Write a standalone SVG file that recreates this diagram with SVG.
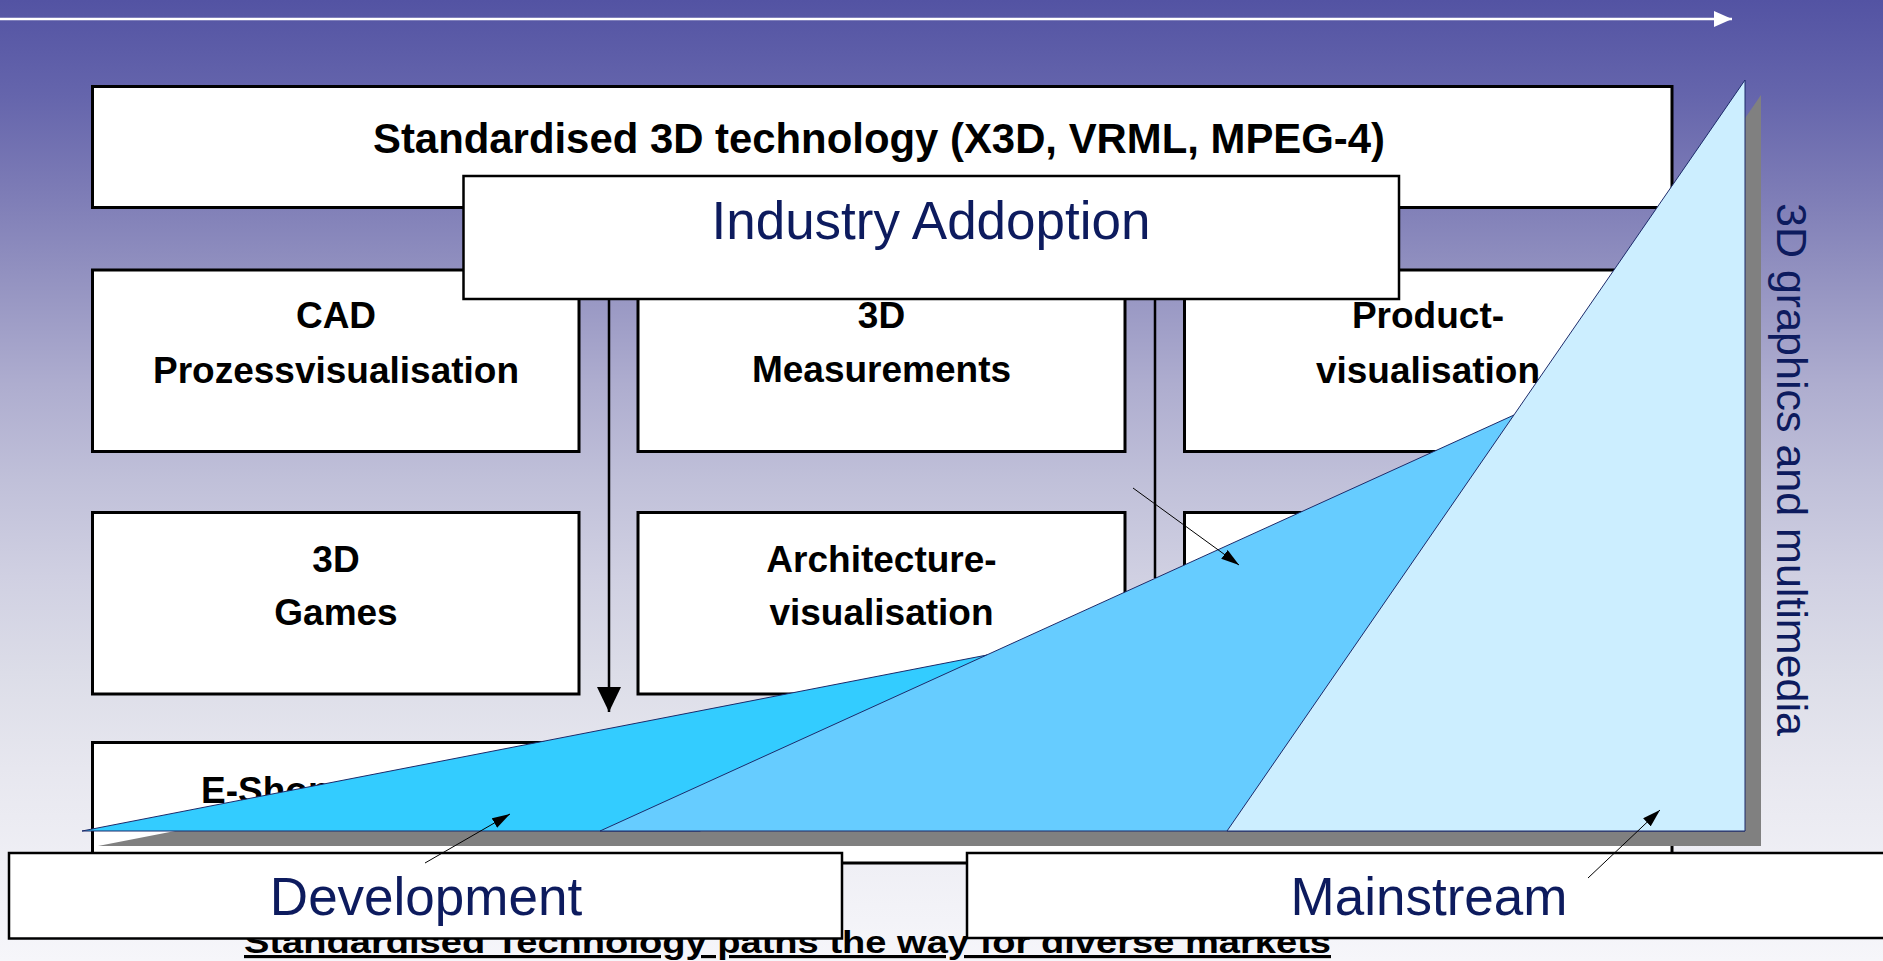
<svg xmlns="http://www.w3.org/2000/svg" width="1883" height="961" viewBox="0 0 1883 961">
<defs>
<linearGradient id="bg" x1="0" y1="0" x2="0" y2="1">
<stop offset="0" stop-color="#5353a3"/>
<stop offset="0.1" stop-color="#6565ac"/>
<stop offset="0.2" stop-color="#7d7cb6"/>
<stop offset="0.3" stop-color="#9695c2"/>
<stop offset="0.4" stop-color="#aeadcf"/>
<stop offset="0.5" stop-color="#c0c0d9"/>
<stop offset="0.6" stop-color="#d0d0e2"/>
<stop offset="0.7" stop-color="#dcdde8"/>
<stop offset="0.8" stop-color="#e7e7ef"/>
<stop offset="0.9" stop-color="#efeff5"/>
<stop offset="1" stop-color="#f6f6fa"/>
</linearGradient>
<marker id="ah" markerUnits="userSpaceOnUse" markerWidth="18" markerHeight="11" refX="18" refY="5.5" orient="auto"><path d="M0,0 L18,5.5 L0,11 z" fill="#000"/></marker>
<marker id="ahBig" markerUnits="userSpaceOnUse" markerWidth="25" markerHeight="24" refX="25" refY="12" orient="auto"><path d="M0,0 L25,12 L0,24 z" fill="#000"/></marker>
<marker id="ahWhite" markerUnits="userSpaceOnUse" markerWidth="18" markerHeight="16" refX="18" refY="8" orient="auto"><path d="M0,0 L18,8 L0,16 z" fill="#fff"/></marker>
</defs>
<style>
.box{fill:#fff;stroke:#000;stroke-width:3}
.lbox{fill:#fff;stroke:#000;stroke-width:2.5}
.lbl{font-family:'Liberation Sans',Arial,sans-serif;font-weight:bold;font-size:37px;text-anchor:middle;fill:#000}
.big{font-family:'Liberation Sans',Arial,sans-serif;font-size:53px;text-anchor:middle;fill:#0d1b5e}
.tri{stroke:#1c2a6a;stroke-width:1;stroke-linejoin:round}
.ptr{stroke:#000;stroke-width:1;fill:none;marker-end:url(#ah)}
</style>
<rect x="0" y="0" width="1883" height="961" fill="url(#bg)"/>

<g id="node-standard">
<rect class="box" x="92.5" y="86.5" width="1579.5" height="121"/>
<text class="lbl" x="879" y="153" textLength="1012" lengthAdjust="spacingAndGlyphs" style="font-size:43px">Standardised 3D technology (X3D, VRML, MPEG-4)</text>
</g>
<g id="node-cad">
<rect class="box" x="92.5" y="270" width="486.5" height="181.5"/>
<text class="lbl" x="336" y="328">CAD</text>
<text class="lbl" x="336" y="383">Prozessvisualisation</text>
</g>
<g id="node-measurements">
<rect class="box" x="638" y="270" width="487" height="181.5"/>
<text class="lbl" x="881.5" y="328">3D</text>
<text class="lbl" x="881.5" y="382">Measurements</text>
</g>
<g id="node-product">
<rect class="box" x="1184.5" y="270" width="487.5" height="181.5"/>
<text class="lbl" x="1428" y="328">Product-</text>
<text class="lbl" x="1428" y="383">visualisation</text>
</g>
<g id="node-games">
<rect class="box" x="92.5" y="512.5" width="486.5" height="181.5"/>
<text class="lbl" x="336" y="572">3D</text>
<text class="lbl" x="336" y="625">Games</text>
</g>
<g id="node-architecture">
<rect class="box" x="638" y="512.5" width="487" height="181.5"/>
<text class="lbl" x="881.5" y="572">Architecture-</text>
<text class="lbl" x="881.5" y="625">visualisation</text>
</g>
<g id="node-row2-right">
<rect class="box" x="1184.5" y="512.5" width="487.5" height="181.5"/>
</g>
<g id="node-eshop">
<rect class="box" x="92.5" y="742.5" width="1579.5" height="120.5"/>
<text class="lbl" x="201" y="803" style="text-anchor:start">E-Shop</text>
</g>

<g id="node-industry">
<rect class="lbox" x="463.5" y="176" width="935.5" height="123"/>
<text class="big" x="931" y="239">Industry Addoption</text>
</g>

<g id="caption">
<text x="787.5" y="953" textLength="1087" lengthAdjust="spacingAndGlyphs" style="font-family:'Liberation Sans',Arial,sans-serif;font-weight:bold;font-size:31.5px;text-anchor:middle;text-decoration:underline;fill:#000">Standardised Technology paths the way for diverse markets</text>
</g>

<g id="adoption-chart">
<polygon points="98,846 1003,670 1530,430 1761,95 1761,846" fill="#808080"/>
<polygon class="tri" points="82,831 987,655 700,831" fill="#33ccff"/>
<polygon class="tri" points="600,831 1514,415 1745,831" fill="#66ccff"/>
<polygon class="tri" points="1227,831 1745,80 1745,831" fill="#cceeff"/>
<text x="1777" y="203" transform="rotate(90 1777 203)" style="font-family:'Liberation Sans',Arial,sans-serif;font-size:43px;fill:#0d1b5e">3D graphics and multimedia</text>
</g>

<g id="node-development">
<rect class="lbox" x="9" y="853" width="833" height="85.5"/>
<text class="big" x="426" y="915">Development</text>
</g>
<g id="node-mainstream">
<rect class="lbox" x="967" y="853" width="930" height="85"/>
<text class="big" x="1429" y="915">Mainstream</text>
</g>

<g id="connectors">
<line x1="0" y1="19" x2="1732" y2="19" stroke="#fff" stroke-width="2.5" marker-end="url(#ahWhite)"/>
<line x1="609" y1="299" x2="609" y2="712" stroke="#000" stroke-width="2.5" marker-end="url(#ahBig)"/>
<line x1="1155" y1="299" x2="1155" y2="578" stroke="#000" stroke-width="2.5"/>
<line class="ptr" x1="1133" y1="488" x2="1239" y2="565"/>
<line class="ptr" x1="425" y1="863" x2="510" y2="814"/>
<line class="ptr" x1="1588" y1="878" x2="1660" y2="810"/>
</g>
</svg>
